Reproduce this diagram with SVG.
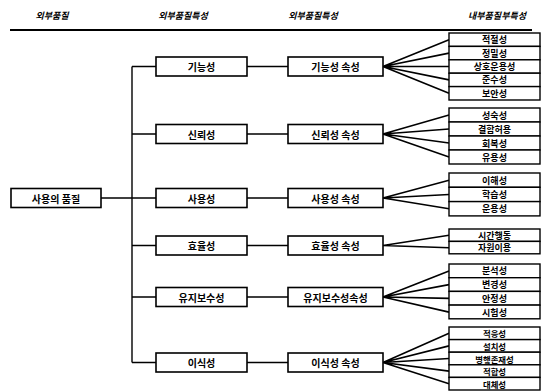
<svg xmlns="http://www.w3.org/2000/svg" width="546" height="391" viewBox="0 0 546 391">
<style>
.bg{fill:#ffffff}
.box{fill:#ffffff;stroke:#000;stroke-width:1.6}
.leaf{fill:#ffffff;stroke:#000;stroke-width:1.4}
.ln{fill:none;stroke:#000;stroke-width:1.4}
.fan{fill:none;stroke:#000;stroke-width:1.6}
.t{font-family:"Noto Sans CJK KR","Noto Sans",sans-serif;font-weight:bold;font-size:10px;fill:#000;text-anchor:middle;dominant-baseline:central}
.tl{font-family:"Noto Sans CJK KR","Noto Sans",sans-serif;font-weight:bold;font-size:9px;fill:#000;text-anchor:middle;dominant-baseline:central}
.ts{font-size:8.4px}
.h{font-family:"Noto Sans CJK KR","Noto Sans",sans-serif;font-weight:bold;font-style:italic;font-size:9px;fill:#000;text-anchor:middle;dominant-baseline:central}
</style>
<rect class="bg" x="0" y="0" width="546" height="391"/>
<g id="header">
<text class="h" x="52" y="15">외부품질</text>
<text class="h" x="183" y="15">외부품질특성</text>
<text class="h" x="313" y="15">외부품질특성</text>
<text class="h" x="497" y="15">내부품질부특성</text>
<line x1="10" y1="30" x2="532" y2="30" stroke="#000" stroke-width="1.8"/>
</g>
<g id="connectors">
<path class="ln" d="M101 198H132M132 66.5V362.5M132 66.5H156M132 134H156M132 198H156M132 245.5H156M132 297H156M132 362.5H156"/>
<path class="ln" d="M247 66.5H288M247 134H288M247 198H288M247 245.5H288M247 297H288M247 362.5H288"/>
<path class="fan" d="M383 66.5L449 39.7M383 66.5L449 53.1M383 66.5L449 66.5M383 66.5L449 79.9M383 66.5L449 93.3"/>
<path class="fan" d="M383 134L449 115M383 134L449 129M383 134L449 143M383 134L449 157"/>
<path class="fan" d="M383 198L449 180.2M383 198L449 194.5M383 198L449 208.8"/>
<path class="fan" d="M383 245.5L449 235.2M383 245.5L449 247.8"/>
<path class="fan" d="M383 297L449 270.9M383 297L449 284.6M383 297L449 298.4M383 297L449 312.1"/>
<path class="fan" d="M383 362.5L449 333.3M383 362.5L449 345.9M383 362.5L449 358.5M383 362.5L449 371.1M383 362.5L449 383.7"/>
</g>
<g id="n-root"><rect class="box" x="11" y="188.5" width="90" height="19"/><text class="t" x="56" y="198">사용의 품질</text></g>
<g id="n-func"><rect class="box" x="156" y="57" width="91" height="19"/><text class="t" x="201.5" y="66.5">기능성</text></g>
<g id="n-rel"><rect class="box" x="156" y="124.5" width="91" height="19"/><text class="t" x="201.5" y="134">신뢰성</text></g>
<g id="n-use"><rect class="box" x="156" y="188.5" width="91" height="19"/><text class="t" x="201.5" y="198">사용성</text></g>
<g id="n-eff"><rect class="box" x="156" y="236" width="91" height="19"/><text class="t" x="201.5" y="245.5">효율성</text></g>
<g id="n-main"><rect class="box" x="156" y="287.5" width="91" height="19"/><text class="t" x="201.5" y="297">유지보수성</text></g>
<g id="n-port"><rect class="box" x="156" y="353" width="91" height="19"/><text class="t" x="201.5" y="362.5">이식성</text></g>
<g id="a-func"><rect class="box" x="288" y="57" width="95" height="19"/><text class="t" x="335.5" y="66.5">기능성 속성</text></g>
<g id="a-rel"><rect class="box" x="288" y="124.5" width="95" height="19"/><text class="t" x="335.5" y="134">신뢰성 속성</text></g>
<g id="a-use"><rect class="box" x="288" y="188.5" width="95" height="19"/><text class="t" x="335.5" y="198">사용성 속성</text></g>
<g id="a-eff"><rect class="box" x="288" y="236" width="95" height="19"/><text class="t" x="335.5" y="245.5">효율성 속성</text></g>
<g id="a-main"><rect class="box" x="288" y="287.5" width="95" height="19"/><text class="t" x="335.5" y="297">유지보수성속성</text></g>
<g id="a-port"><rect class="box" x="288" y="353" width="95" height="19"/><text class="t" x="335.5" y="362.5">이식성 속성</text></g>
<g id="l-func">
<rect class="leaf" x="449" y="33" width="91" height="13.4"/><text class="tl" x="494.5" y="39.7">적절성</text>
<rect class="leaf" x="449" y="46.4" width="91" height="13.4"/><text class="tl" x="494.5" y="53.1">정밀성</text>
<rect class="leaf" x="449" y="59.8" width="91" height="13.4"/><text class="tl" x="494.5" y="66.5">상호운용성</text>
<rect class="leaf" x="449" y="73.2" width="91" height="13.4"/><text class="tl" x="494.5" y="79.9">준수성</text>
<rect class="leaf" x="449" y="86.6" width="91" height="13.4"/><text class="tl" x="494.5" y="93.3">보안성</text>
</g>
<g id="l-rel">
<rect class="leaf" x="449" y="108" width="91" height="14"/><text class="tl" x="494.5" y="115">성숙성</text>
<rect class="leaf" x="449" y="122" width="91" height="14"/><text class="tl" x="494.5" y="129">결함허용</text>
<rect class="leaf" x="449" y="136" width="91" height="14"/><text class="tl" x="494.5" y="143">회복성</text>
<rect class="leaf" x="449" y="150" width="91" height="14"/><text class="tl" x="494.5" y="157">유용성</text>
</g>
<g id="l-use">
<rect class="leaf" x="449" y="173" width="91" height="14.3"/><text class="tl" x="494.5" y="180.2">이해성</text>
<rect class="leaf" x="449" y="187.3" width="91" height="14.3"/><text class="tl" x="494.5" y="194.5">학습성</text>
<rect class="leaf" x="449" y="201.6" width="91" height="14.3"/><text class="tl" x="494.5" y="208.8">운용성</text>
</g>
<g id="l-eff">
<rect class="leaf" x="449" y="229" width="91" height="12.4"/><text class="tl" x="494.5" y="235.2">시간행동</text>
<rect class="leaf" x="449" y="241.4" width="91" height="12.4"/><text class="tl" x="494.5" y="247.6">자원이용</text>
</g>
<g id="l-main">
<rect class="leaf" x="449" y="264" width="91" height="13.7"/><text class="tl" x="494.5" y="270.9">분석성</text>
<rect class="leaf" x="449" y="277.7" width="91" height="13.7"/><text class="tl" x="494.5" y="284.6">변경성</text>
<rect class="leaf" x="449" y="291.4" width="91" height="13.7"/><text class="tl" x="494.5" y="298.3">안정성</text>
<rect class="leaf" x="449" y="305.1" width="91" height="13.7"/><text class="tl" x="494.5" y="312">시험성</text>
</g>
<g id="l-port">
<rect class="leaf" x="449" y="327" width="91" height="12.6"/><text class="tl ts" x="494.5" y="333.3">적응성</text>
<rect class="leaf" x="449" y="339.6" width="91" height="12.6"/><text class="tl ts" x="494.5" y="345.9">설치성</text>
<rect class="leaf" x="449" y="352.2" width="91" height="12.6"/><text class="tl ts" x="494.5" y="358.5">병행존재성</text>
<rect class="leaf" x="449" y="364.8" width="91" height="12.6"/><text class="tl ts" x="494.5" y="371.1">적합성</text>
<rect class="leaf" x="449" y="377.4" width="91" height="12.6"/><text class="tl ts" x="494.5" y="383.7">대체성</text>
</g>
</svg>
